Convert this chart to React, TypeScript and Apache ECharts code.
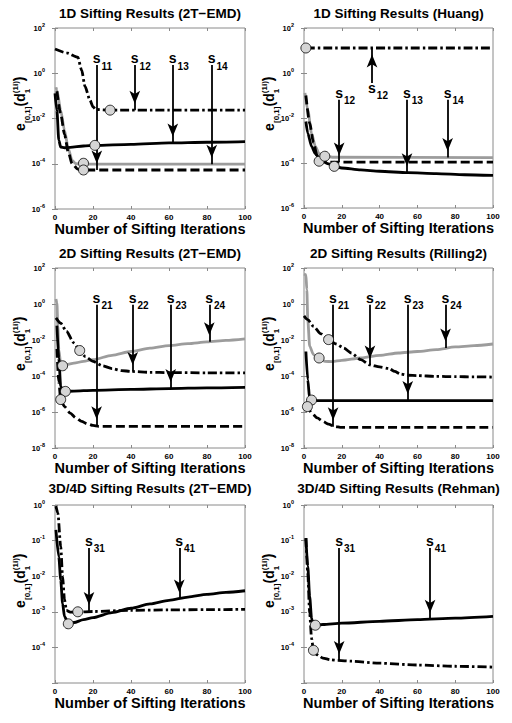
import React, { useEffect, useRef } from 'react';
import * as echarts from 'echarts';

type Pt = [number, number];
type Arrow = [number, number, number, string]; // x, from, to, subscript

const FONT = '"Liberation Sans", Arial, Helvetica, sans-serif';

const TITLES = [
  '1D Sifting Results (2T−EMD)',
  '1D Sifting Results (Huang)',
  '2D Sifting Results (2T−EMD)',
  '2D Sifting Results (Rilling2)',
  '3D/4D Sifting Results (2T−EMD)',
  '3D/4D Sifting Results (Rehman)',
];
const X_NAME = 'Number of Sifting Iterations';
const X_TICK_STEP = 20;
// [min exponent, max exponent, step]
const Y_EXP_RANGES: [number, number, number][] = [
  [-6, 2, 2], [-6, 2, 2], [-8, 2, 2], [-8, 2, 2], [-5, 0, 1], [-5, 0, 1],
];
const Y_HIDDEN_EXP = [[], [], [], [], [-5], [-5]];

// ---------- Panel 1: 1D 2T-EMD ----------
const P1_GRAY: Pt[] = [[0.5, 0.24], [1, 0.18], [3, 0.023], [5, 3e-3], [7, 4.7e-4], [9, 1.4e-4], [11, 1e-4], [15, 9.6e-5], [100, 9.6e-5]];
const P1_DASHED: Pt[] = [[1, 0.16], [3, 0.016], [5, 2e-3], [7, 3.2e-4], [9, 1e-4], [12, 5.8e-5], [15, 5.3e-5], [100, 5.3e-5]];
const P1_SOLID: Pt[] = [[0, 0.13], [1, 0.023], [2, 1.1e-3], [3, 5.5e-4], [5, 5.1e-4], [8, 5.3e-4], [15, 6.1e-4], [21, 6.5e-4], [40, 7.2e-4], [60, 8.3e-4], [80, 8.9e-4], [100, 9.5e-4]];
const P1_DASHDOT: Pt[] = [[0, 11.7], [6, 8], [12, 5.1], [14, 1.4], [15.8, 0.26], [18.4, 0.065], [20, 0.033], [21.5, 0.025], [29, 0.0234], [60, 0.0234], [100, 0.0234]];
const P1_CIRCLES: Pt[] = [[29, 0.0234], [21, 6.5e-4], [15, 1.05e-4], [15, 5.3e-5]];
const P1_ARROWS: Arrow[] = [[22, 2.3, 5.3e-5, '11'], [42, 2.3, 0.0234, '12'], [62, 2.3, 8.3e-4, '13'], [82.5, 2.3, 9.6e-5, '14']];

// ---------- Panel 2: 1D Huang ----------
const P2_GRAY: Pt[] = [[0.5, 0.13], [2, 0.023], [4, 2.1e-3], [6, 5.5e-4], [8, 2.6e-4], [11, 2e-4], [15, 1.8e-4], [100, 1.75e-4]];
const P2_DASHED: Pt[] = [[1, 0.1], [3, 6e-3], [5, 8e-4], [7, 2e-4], [9, 1.2e-4], [12, 1.1e-4], [100, 1.1e-4]];
const P2_SOLID: Pt[] = [[1, 7e-3], [2, 2.1e-3], [4, 5.5e-4], [6, 2.6e-4], [8, 1.66e-4], [10, 1.17e-4], [13, 9.1e-5], [16, 7.1e-5], [20, 6e-5], [30, 4.9e-5], [40, 4.3e-5], [55, 3.7e-5], [70, 3.4e-5], [85, 3e-5], [100, 2.8e-5]];
const P2_DASHDOT: Pt[] = [[1, 12.9], [50, 12.9], [100, 12.9]];
const P2_CIRCLES: Pt[] = [[1, 12.9], [8, 1.2e-4], [11, 2e-4], [16, 7.1e-5]];
const P2_ARROWS: Arrow[] = [[18.6, 0.065, 1.1e-4, '12'], [36, 0.36, 12.9, '12'], [54.5, 0.065, 3.7e-5, '13'], [76, 0.065, 1.75e-4, '14']];

// ---------- Panel 3: 2D 2T-EMD ----------
const P3_GRAY: Pt[] = [[0.5, 1.9], [1, 1.15], [1.5, 0.058], [2, 2.9e-3], [3, 4.9e-4], [4, 3.7e-4], [6, 4.3e-4], [10, 5.2e-4], [15, 6.5e-4], [20, 8.1e-4], [30, 1.4e-3], [40, 2.3e-3], [50, 3.5e-3], [60, 4.9e-3], [70, 6.3e-3], [80, 7.8e-3], [90, 9.5e-3], [100, 0.0115]];
const P3_DASHED: Pt[] = [[1, 3.2e-3], [2, 5e-5], [3, 4.9e-6], [5, 2e-6], [8, 8.7e-7], [11, 4.7e-7], [14, 3e-7], [17, 2.2e-7], [20, 1.8e-7], [23, 1.6e-7], [100, 1.6e-7]];
const P3_SOLID: Pt[] = [[1, 0.063], [2, 1e-3], [3, 2.7e-5], [4, 1.6e-5], [5, 1.4e-5], [10, 1.45e-5], [20, 1.6e-5], [40, 1.8e-5], [60, 2e-5], [80, 2.2e-5], [100, 2.35e-5]];
const P3_DASHDOT: Pt[] = [[0.5, 0.17], [3, 0.087], [6, 0.03], [10, 6.8e-3], [13, 2.6e-3], [16, 1.2e-3], [20, 6.5e-4], [25, 3.7e-4], [30, 2.6e-4], [35, 2e-4], [40, 1.8e-4], [50, 1.6e-4], [60, 1.55e-4], [80, 1.5e-4], [100, 1.48e-4]];
const P3_CIRCLES: Pt[] = [[13, 2.6e-3], [4, 3.7e-4], [5.5, 1.4e-5], [3, 4.9e-6]];
const P3_ARROWS: Arrow[] = [[21.9, 0.91, 1.7e-7, '21'], [40.9, 0.91, 1.8e-4, '22'], [60.9, 0.91, 2e-5, '23'], [81.2, 0.91, 7.9e-3, '24']];

// ---------- Panel 4: 2D Rilling2 ----------
const P4_GRAY: Pt[] = [[0, 47], [1, 43], [1.5, 6.3], [2, 0.135], [3, 4.5e-3], [5, 1.55e-3], [8, 1e-3], [11, 6.5e-4], [15, 6.3e-4], [20, 7.4e-4], [30, 1e-3], [40, 1.4e-3], [50, 1.9e-3], [60, 2.3e-3], [70, 2.9e-3], [80, 4.1e-3], [90, 4.9e-3], [100, 6e-3]];
const P4_DASHED: Pt[] = [[1, 2.6e-6], [1.8, 2e-6], [4, 8.7e-7], [7, 4.7e-7], [10, 3e-7], [13, 2.1e-7], [16, 1.6e-7], [20, 1.4e-7], [100, 1.4e-7]];
const P4_SOLID: Pt[] = [[1, 2.3e-3], [2, 6.3e-5], [3, 5.2e-6], [4, 4.3e-6], [10, 4.3e-6], [100, 4.3e-6]];
const P4_DASHDOT: Pt[] = [[0, 0.22], [2, 0.135], [5, 0.058], [9, 0.022], [13, 0.0105], [17, 6e-3], [21, 3.6e-3], [25, 1.9e-3], [30, 8.1e-4], [35, 4.1e-4], [40, 3.2e-4], [45, 2.6e-4], [48, 1.8e-4], [51, 1.3e-4], [55, 1.1e-4], [60, 1.05e-4], [70, 9.5e-5], [80, 9.2e-5], [90, 9e-5], [100, 8.7e-5]];
const P4_CIRCLES: Pt[] = [[13, 0.0105], [8, 1e-3], [4, 4.6e-6], [1.8, 2e-6]];
const P4_ARROWS: Arrow[] = [[15.4, 0.91, 1.5e-7, '21'], [34.9, 0.91, 4.1e-4, '22'], [54.9, 0.91, 4.3e-6, '23'], [74.9, 0.91, 3.6e-3, '24']];

// ---------- Panel 5: 3D/4D 2T-EMD ----------
const P5_SOLID: Pt[] = [[0.5, 0.2], [2, 0.035], [3, 7.9e-3], [4, 1.7e-3], [5, 7.4e-4], [7, 4.6e-4], [10, 5e-4], [15, 6e-4], [20, 6.9e-4], [30, 9.5e-4], [40, 1.26e-3], [50, 1.66e-3], [60, 2.1e-3], [70, 2.6e-3], [80, 3.1e-3], [90, 3.5e-3], [100, 3.9e-3]];
const P5_DASHDOT: Pt[] = [[0.5, 0.93], [1.5, 0.59], [3, 0.068], [4, 9.8e-3], [5, 2.2e-3], [6, 1.1e-3], [8, 9.8e-4], [12, 9.8e-4], [20, 1.02e-3], [40, 1.1e-3], [60, 1.13e-3], [80, 1.15e-3], [100, 1.17e-3]];
const P5_CIRCLES: Pt[] = [[12, 1e-3], [7, 4.6e-4]];
const P5_ARROWS: Arrow[] = [[17.9, 0.062, 1.02e-3, '31'], [65.4, 0.062, 2.3e-3, '41']];

// ---------- Panel 6: 3D/4D Rehman ----------
const P6_SOLID: Pt[] = [[1, 0.117], [2, 0.019], [3, 2.7e-3], [4, 6.6e-4], [5, 3.9e-4], [6, 4.2e-4], [10, 4.4e-4], [20, 4.8e-4], [40, 5.4e-4], [60, 6e-4], [80, 6.6e-4], [100, 7.4e-4]];
const P6_DASHDOT: Pt[] = [[1, 0.117], [2, 0.012], [3, 9.1e-4], [4, 1.8e-4], [5, 8.3e-5], [7, 6.2e-5], [10, 5e-5], [14, 4.5e-5], [18, 4.3e-5], [25, 4.1e-5], [40, 3.6e-5], [60, 3.2e-5], [80, 2.95e-5], [100, 2.8e-5]];
const P6_CIRCLES: Pt[] = [[6, 4.2e-4], [5, 8.3e-5]];
const P6_ARROWS: Arrow[] = [[18.6, 0.062, 4.3e-5, '31'], [66.7, 0.062, 6.2e-4, '41']];

const PANELS = [
  { gray: P1_GRAY, dashed: P1_DASHED, solid: P1_SOLID, dashDot: P1_DASHDOT, circles: P1_CIRCLES, arrows: P1_ARROWS },
  { gray: P2_GRAY, dashed: P2_DASHED, solid: P2_SOLID, dashDot: P2_DASHDOT, circles: P2_CIRCLES, arrows: P2_ARROWS },
  { gray: P3_GRAY, dashed: P3_DASHED, solid: P3_SOLID, dashDot: P3_DASHDOT, circles: P3_CIRCLES, arrows: P3_ARROWS },
  { gray: P4_GRAY, dashed: P4_DASHED, solid: P4_SOLID, dashDot: P4_DASHDOT, circles: P4_CIRCLES, arrows: P4_ARROWS },
  { gray: [] as Pt[], dashed: [] as Pt[], solid: P5_SOLID, dashDot: P5_DASHDOT, circles: P5_CIRCLES, arrows: P5_ARROWS },
  { gray: [] as Pt[], dashed: [] as Pt[], solid: P6_SOLID, dashDot: P6_DASHDOT, circles: P6_CIRCLES, arrows: P6_ARROWS },
];

// layout (pixels)
const GRIDS = [
  { left: 55, top: 28, width: 190, height: 181 },
  { left: 304, top: 28, width: 189, height: 180 },
  { left: 55, top: 268, width: 190, height: 180 },
  { left: 304, top: 268, width: 189, height: 180 },
  { left: 55, top: 505, width: 190, height: 178 },
  { left: 304, top: 505, width: 189, height: 178 },
];

const FRAME = '#8a8a8a';
const LW = 2.8;
const STYLE_GRAY = { color: '#9c9c9c', type: 'solid' as const };
const STYLE_SOLID = { color: '#000', type: 'solid' as const };
const STYLE_DASHED = { color: '#000', type: [9, 4] };
const STYLE_DASHDOT = { color: '#000', type: [9, 3, 2.5, 3] };
const HEAD_W = 8;
const HEAD_H = 13;

function yLabelGroup(px: number, py: number) {
  const main = { fontSize: 14, fontWeight: 'bold', fontFamily: FONT, fill: '#000', verticalAlign: 'bottom' };
  const small = { fontSize: 8, fontWeight: 'bold', fontFamily: FONT, fill: '#000', verticalAlign: 'bottom' };
  return {
    type: 'group',
    x: px,
    y: py,
    rotation: Math.PI / 2,
    silent: true,
    children: [
      { type: 'text', x: 0, y: 0, style: { ...main, text: 'e' } },
      { type: 'text', x: 8, y: 4.5, style: { ...small, text: '[0,1]' } },
      { type: 'text', x: 24.5, y: 0, style: { ...main, text: '(d' } },
      { type: 'text', x: 37.8, y: 4.5, style: { ...small, text: '1' } },
      { type: 'text', x: 37.8, y: -8, style: { ...small, text: '(1i)' } },
      { type: 'text', x: 49.8, y: -1, style: { ...main, text: ')' } },
    ],
  };
}

function buildOption() {
  const grid: any[] = [];
  const xAxis: any[] = [];
  const yAxis: any[] = [];
  const series: any[] = [];
  const title: any[] = [];
  const graphic: any[] = [];

  PANELS.forEach((p, i) => {
    const g = GRIDS[i];
    const [eMin, eMax, eStep] = Y_EXP_RANGES[i];
    const hidden = Y_HIDDEN_EXP[i] as number[];
    grid.push({ ...g, show: true, borderColor: FRAME, borderWidth: 1, backgroundColor: '#fff', containLabel: false });

    title.push({
      text: TITLES[i],
      left: g.left + g.width / 2,
      top: g.top - (i >= 4 ? 24 : 22),
      textAlign: 'center',
      padding: 0,
      textStyle: { fontSize: 13.5, fontWeight: 'bold', fontFamily: FONT, color: '#000' },
    });

    const tick = { show: true, inside: true, length: 3, lineStyle: { color: FRAME, width: 1 } };
    xAxis.push({
      type: 'value', gridIndex: i, position: 'bottom', min: 0, max: 100, interval: X_TICK_STEP,
      axisLine: { show: false }, splitLine: { show: false }, axisTick: tick,
      axisLabel: { margin: 4, fontSize: 8, fontWeight: 'bold', fontFamily: FONT, color: '#000' },
      name: X_NAME, nameLocation: 'middle', nameGap: 11,
      nameTextStyle: { fontSize: 14.5, fontWeight: 'bold', fontFamily: FONT, color: '#000', verticalAlign: 'top' },
    });
    xAxis.push({
      type: 'value', gridIndex: i, position: 'top', min: 0, max: 100, interval: X_TICK_STEP,
      axisLine: { show: false }, splitLine: { show: false }, axisTick: tick, axisLabel: { show: false },
    });
    const yBase = {
      type: 'log', logBase: 10, gridIndex: i, min: Math.pow(10, eMin), max: Math.pow(10, eMax),
      interval: eStep, splitNumber: (eMax - eMin) / eStep,
      axisLine: { show: false }, splitLine: { show: false }, axisTick: tick, minorTick: { show: false },
    };
    yAxis.push({
      ...yBase, position: 'left',
      axisLabel: {
        margin: 10, color: '#000', fontFamily: FONT,
        formatter: (v: number) => {
          const e = Math.round(Math.log10(v));
          if (hidden.indexOf(e) >= 0) return '';
          return `{b|10}{p|${e}}`;
        },
        rich: {
          b: { fontSize: 7.5, fontWeight: 'bold', fontFamily: FONT, color: '#000' },
          p: { fontSize: 5.5, fontWeight: 'bold', fontFamily: FONT, color: '#000', padding: [0, 0, 7, 0] },
        },
      },
    });
    yAxis.push({ ...yBase, position: 'right', axisLabel: { show: false } });

    const ax = { xAxisIndex: 2 * i, yAxisIndex: 2 * i };
    const addLine = (data: Pt[], style: any) => {
      if (!data.length) return;
      series.push({
        type: 'line', ...ax, data, symbol: 'none', showSymbol: false, smooth: 0.25, smoothMonotone: 'x',
        lineStyle: { width: LW, ...style }, silent: true, z: 2,
      });
    };
    addLine(p.gray, STYLE_GRAY);
    addLine(p.dashed, STYLE_DASHED);
    addLine(p.solid, STYLE_SOLID);
    addLine(p.dashDot, STYLE_DASHDOT);

    series.push({
      type: 'scatter', ...ax, data: p.circles, symbol: 'circle', symbolSize: 10, silent: true, z: 5,
      itemStyle: { color: '#d5d5d5', borderColor: '#000', borderWidth: 0.8, opacity: 1 },
    });

    // arrow shafts + labels
    series.push({
      type: 'scatter', ...ax, symbolSize: 0, silent: true, z: 6,
      itemStyle: { opacity: 1, color: '#000' },
      data: p.arrows.map(([x, from, to, sub]) => ({
        value: [x, from],
        label: {
          show: true,
          formatter: `{s|s}{n|${sub}}`,
          position: to > from ? [-4, -4] : [-4, -16],
        },
      })),
      label: {
        show: true,
        opacity: 1,
        rich: {
          s: { fontSize: 14, fontWeight: 'bold', fontFamily: FONT, color: '#000', padding: [0, 0, 4, 0] },
          n: { fontSize: 10, fontWeight: 'bold', fontFamily: FONT, color: '#000', padding: [12, 0, 0, 1] },
        },
      },
      markLine: {
        silent: true,
        symbol: ['none', 'none'],
        lineStyle: { color: '#000', width: 1.8, type: 'solid', opacity: 1 },
        label: { show: false },
        emphasis: { disabled: true },
        data: p.arrows.map(([x, from, to]) => [{ coord: [x, from] }, { coord: [x, to] }]),
      },
    });

    // arrow heads
    series.push({
      type: 'scatter', ...ax, symbol: 'arrow', symbolSize: [HEAD_W, HEAD_H], silent: true, z: 7,
      itemStyle: { color: '#000', opacity: 1 },
      data: p.arrows.map(([x, from, to]) => ({
        value: [x, to],
        symbolRotate: to > from ? 0 : 180,
        symbolOffset: [0, to > from ? HEAD_H / 2 : -HEAD_H / 2],
      })),
    });

    graphic.push(yLabelGroup(g.left - 28, g.top + 103));
  });

  return {
    animation: false,
    backgroundColor: '#fff',
    title, grid, xAxis, yAxis, series, graphic,
  };
}

export default function App() {
  const ref = useRef<HTMLDivElement>(null);
  useEffect(() => {
    if (!ref.current) return;
    const chart = echarts.init(ref.current, undefined, { renderer: 'svg' });
    chart.setOption(buildOption() as any);
    return () => chart.dispose();
  }, []);
  return (
    <div
      ref={ref}
      style={{ position: 'absolute', left: 0, top: 0, width: 512, height: 723, background: '#fff' }}
    />
  );
}
